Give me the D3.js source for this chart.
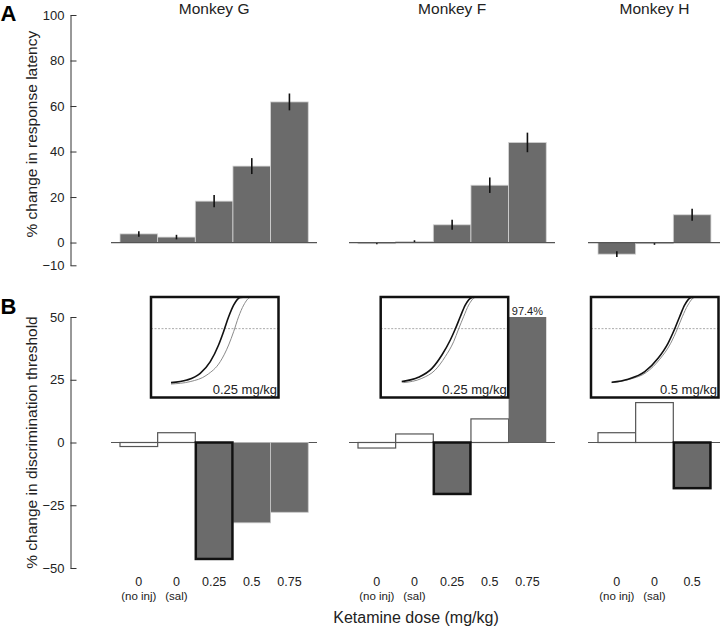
<!DOCTYPE html>
<html><head><meta charset="utf-8">
<script src="https://cdn.jsdelivr.net/npm/d3@7"></script>
<style>
html,body{margin:0;padding:0;background:#fff;}
svg{display:block;font-family:"Liberation Sans",Arial,Helvetica,sans-serif;}
</style></head>
<body>
<svg id="chart" width="720" height="627"></svg>
<script>
// ---------------- DATA ----------------
const monkeys = ["Monkey G", "Monkey F", "Monkey H"];
const doseLabels = [
  ["0", "0", "0.25", "0.5", "0.75"],
  ["0", "0", "0.25", "0.5", "0.75"],
  ["0", "0", "0.5"]
];
const doseSubLabels = [
  ["(no inj)", "(sal)", "", "", ""],
  ["(no inj)", "(sal)", "", "", ""],
  ["(no inj)", "(sal)", ""]
];
// Panel A: % change in response latency (mean, error)
const latencyG = [3.8, 2.4, 18.2, 33.6, 61.8];
const latencyErrG = [1.2, 1.0, 2.7, 3.5, 3.7];
const latencyF = [-0.5, 0.4, 7.8, 25.2, 44.0];
const latencyErrF = [0.3, 0.6, 2.2, 3.4, 4.3];
const latencyH = [-5.1, -0.5, 12.2];
const latencyErrH = [1.3, 0.5, 2.6];
// Panel B: % change in discrimination threshold
const thresholdG = [-1.6, 3.9, -46.4, -32.0, -27.8];
const thresholdF = [-2.2, 3.4, -20.5, 9.4, 97.4];
const thresholdH = [3.9, 15.9, -18.2];
// filled (significant) bars in panel B
const thresholdFilledG = [false, false, true, true, true];
const thresholdFilledF = [false, false, true, false, true];
const thresholdFilledH = [false, false, true];
// dose index shown in the inset (outlined bar)
const insetDoseIndex = [2, 2, 2];
const insetLabels = ["0.25 mg/kg", "0.25 mg/kg", "0.5 mg/kg"];
// Inset psychometric curves: [normalized stimulus, proportion correct]
const insetCurveDrugG = [[0.157,0.502],[0.281,0.517],[0.386,0.556],[0.465,0.624],[0.530,0.721],[0.569,0.798],[0.609,0.885],[0.648,0.953],[0.701,0.998],[0.754,1.0]];
const insetCurveCtrlG = [[0.157,0.494],[0.307,0.508],[0.439,0.547],[0.543,0.624],[0.609,0.721],[0.648,0.798],[0.687,0.885],[0.727,0.953],[0.780,0.998],[0.819,1.0]];
const insetCurveDrugF = [[0.165,0.508],[0.296,0.533],[0.402,0.585],[0.480,0.663],[0.546,0.750],[0.585,0.814],[0.624,0.885],[0.663,0.953],[0.717,0.998],[0.743,1.0]];
const insetCurveCtrlF = [[0.178,0.502],[0.323,0.527],[0.428,0.576],[0.506,0.653],[0.572,0.740],[0.611,0.814],[0.650,0.885],[0.690,0.953],[0.743,0.998],[0.769,1.0]];
const insetCurveDrugH = [[0.162,0.504],[0.291,0.522],[0.422,0.566],[0.526,0.644],[0.604,0.731],[0.656,0.814],[0.695,0.885],[0.734,0.953],[0.787,0.998],[0.838,1.0]];
const insetCurveCtrlH = [[0.162,0.502],[0.305,0.522],[0.435,0.562],[0.539,0.638],[0.625,0.731],[0.677,0.814],[0.716,0.885],[0.760,0.953],[0.813,0.998],[0.852,1.0]];
const thresholdCriterion = 0.816;
const latencyTicks = [-10, 0, 20, 40, 60, 80, 100];
const thresholdTicks = [-50, -25, 0, 25, 50];

// ---------------- LAYOUT ----------------
const svg = d3.select("#chart");
const barW = 37.65;
const panelX0 = [120, 358, 598];
const baselineExt = [[111, 317], [349, 555], [588, 722]];
const insetLeft = [151, 380.7, 591];
const insetW = 127.5, insetTop = 297, insetH = 100.5;
const axisX = 70.5;
const FILL = "#6b6b6b";

const yTop = d3.scaleLinear().domain([-10, 100]).range([265.3, 15]);
const yBot = d3.scaleLinear().domain([-50, 50]).range([568, 317]);

const latency = [latencyG, latencyF, latencyH];
const latencyErr = [latencyErrG, latencyErrF, latencyErrH];
const threshold = [thresholdG, thresholdF, thresholdH];
const filled = [thresholdFilledG, thresholdFilledF, thresholdFilledH];
const curvesDrug = [insetCurveDrugG, insetCurveDrugF, insetCurveDrugH];
const curvesCtrl = [insetCurveCtrlG, insetCurveCtrlF, insetCurveCtrlH];

// ---------------- AXES ----------------
function styleAxis(g){
  g.select(".domain").attr("stroke", "#333").attr("stroke-width", 1);
  g.selectAll(".tick line").attr("stroke", "#333").attr("stroke-width", 1);
  g.selectAll(".tick text").attr("font-size", 13).attr("fill", "#222")
    .attr("font-family", "'Liberation Sans',Arial,sans-serif");
}
svg.append("g").attr("transform", `translate(${axisX},0)`)
  .call(d3.axisLeft(yTop).tickValues(latencyTicks).tickSizeInner(-6).tickSizeOuter(0).tickPadding(6))
  .call(styleAxis);
svg.append("g").attr("transform", `translate(${axisX},0)`)
  .call(d3.axisLeft(yBot).tickValues(thresholdTicks).tickSizeInner(-6).tickSizeOuter(0).tickPadding(6))
  .call(styleAxis);

// axis titles
svg.append("text").attr("transform", `translate(37,${(yTop(100)+yTop(-10))/2 - 6}) rotate(-90)`)
  .attr("text-anchor", "middle").attr("font-size", 15.5).attr("fill", "#222")
  .text("% change in response latency");
svg.append("text").attr("transform", `translate(37,${(yBot(50)+yBot(-50))/2}) rotate(-90)`)
  .attr("text-anchor", "middle").attr("font-size", 15.5).attr("fill", "#222")
  .text("% change in discrimination threshold");
svg.append("text").attr("x", 416).attr("y", 623).attr("text-anchor", "middle")
  .attr("font-size", 16).attr("fill", "#222").text("Ketamine dose (mg/kg)");

// panel letters
svg.append("text").attr("x", 0.5).attr("y", 20.5).attr("font-size", 22).attr("font-weight", "bold").text("A");
svg.append("text").attr("x", 0.5).attr("y", 313.5).attr("font-size", 22).attr("font-weight", "bold").text("B");

// ---------------- PANELS ----------------
monkeys.forEach((name, m) => {
  const n = latency[m].length;
  const x = d3.scaleBand().domain(d3.range(n)).range([panelX0[m], panelX0[m] + n * barW]).padding(0);
  const g = svg.append("g");

  // title
  g.append("text").attr("x", panelX0[m] + n * barW / 2).attr("y", 13.5)
    .attr("text-anchor", "middle").attr("font-size", 15.5).attr("fill", "#222").text(name);

  // ---- Panel A bars ----
  g.selectAll(".latbar").data(latency[m]).join("rect")
    .attr("x", (d, i) => x(i)).attr("width", x.bandwidth())
    .attr("y", d => yTop(Math.max(0, d))).attr("height", d => Math.abs(yTop(d) - yTop(0)))
    .attr("fill", FILL).attr("stroke", "#d4d4d4").attr("stroke-width", 0.8);
  g.selectAll(".laterr").data(latency[m]).join("line")
    .attr("x1", (d, i) => x(i) + x.bandwidth() / 2).attr("x2", (d, i) => x(i) + x.bandwidth() / 2)
    .attr("y1", (d, i) => yTop(d + latencyErr[m][i])).attr("y2", (d, i) => yTop(d - latencyErr[m][i]))
    .attr("stroke", "#111").attr("stroke-width", 1.6);
  g.append("line").attr("x1", baselineExt[m][0]).attr("x2", baselineExt[m][1])
    .attr("y1", yTop(0)).attr("y2", yTop(0)).attr("stroke", "#555").attr("stroke-width", 1.2);

  // ---- Panel B bars ----
  const th = threshold[m];
  g.append("line").attr("x1", baselineExt[m][0]).attr("x2", baselineExt[m][1])
    .attr("y1", yBot(0)).attr("y2", yBot(0)).attr("stroke", "#555").attr("stroke-width", 1.2);
  const order = d3.range(n).sort((a, b) => (a === insetDoseIndex[m]) - (b === insetDoseIndex[m]));
  order.forEach(i => {
    const v = Math.min(th[i], 50);
    const hl = i === insetDoseIndex[m];
    const f = filled[m][i];
    g.append("rect")
      .attr("x", x(i) + (hl ? 0.5 : 0)).attr("width", x.bandwidth() - (hl ? 1 : 0))
      .attr("y", yBot(Math.max(0, v))).attr("height", Math.abs(yBot(v) - yBot(0)))
      .attr("fill", f ? FILL : "#fff")
      .attr("stroke", hl ? "#111" : (f ? (th[i] > 50 ? "none" : "#c8c8c8") : "#555"))
      .attr("stroke-width", hl ? 2.5 : (f ? 0.8 : 1.2));
    if (th[i] > 50) {
      g.append("text").attr("x", x(i) + x.bandwidth() / 2).attr("y", yBot(50) - 2)
        .attr("text-anchor", "middle").attr("font-size", 11).attr("fill", "#222")
        .text(th[i].toFixed(1) + "%");
    }
  });

  // ---- x tick labels ----
  doseLabels[m].forEach((lab, i) => {
    const cx = x(i) + x.bandwidth() / 2;
    g.append("text").attr("x", cx).attr("y", 585.5).attr("text-anchor", "middle")
      .attr("font-size", 12.5).attr("fill", "#222").text(lab);
    if (doseSubLabels[m][i]) {
      g.append("text").attr("x", cx).attr("y", 599.5).attr("text-anchor", "middle")
        .attr("font-size", 11.5).attr("fill", "#222").text(doseSubLabels[m][i]);
    }
  });

  // ---- Inset ----
  const L = insetLeft[m];
  const ix = d3.scaleLinear().domain([0, 1]).range([L, L + insetW]);
  const iy = d3.scaleLinear().domain([0.5, 1]).range([383, insetTop]);
  const ig = g.append("g");
  ig.append("rect").attr("x", L).attr("y", insetTop).attr("width", insetW).attr("height", insetH)
    .attr("fill", "#fff").attr("stroke", "none");
  ig.append("line").attr("x1", L).attr("x2", L + insetW)
    .attr("y1", iy(thresholdCriterion)).attr("y2", iy(thresholdCriterion))
    .attr("stroke", "#aaa").attr("stroke-width", 1).attr("stroke-dasharray", "2,1.5");
  const line = d3.line().x(d => ix(d[0])).y(d => iy(d[1])).curve(d3.curveMonotoneX);
  ig.append("path").attr("d", line(curvesCtrl[m])).attr("fill", "none")
    .attr("stroke", "#8a8a8a").attr("stroke-width", 1);
  ig.append("path").attr("d", line(curvesDrug[m])).attr("fill", "none")
    .attr("stroke", "#111").attr("stroke-width", 1.6);
  ig.append("text").attr("x", L + insetW - 1.5).attr("y", 394).attr("text-anchor", "end")
    .attr("font-size", 13).attr("fill", "#222").text(insetLabels[m]);
  ig.append("rect").attr("x", L).attr("y", insetTop).attr("width", insetW).attr("height", insetH)
    .attr("fill", "none").attr("stroke", "#111").attr("stroke-width", 2.5);
});
</script>
</body></html>
